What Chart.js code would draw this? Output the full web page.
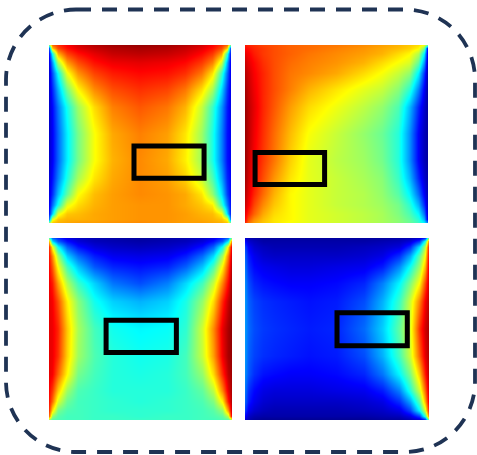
<!DOCTYPE html>
<html>
<head>
<meta charset="utf-8">
<title>Field maps</title>
<script src="https://cdn.jsdelivr.net/npm/chart.js@4/dist/chart.umd.min.js"></script>
<style>
  html, body { margin: 0; padding: 0; background: #fff; }
  #page { position: relative; width: 477px; height: 455px; overflow: hidden; }
  #frame { position: absolute; left: 0; top: 0; }
  .panel { position: absolute; }
  .panel canvas { display: block; }
</style>
</head>
<body>
<div id="page">
  <svg id="frame" width="477" height="455">
    <rect x="6" y="9.5" width="469" height="442.5" rx="70" ry="70" fill="none"
          stroke="#1f3354" stroke-width="3.8" stroke-dasharray="15 11"></rect>
  </svg>
  <div class="panel" style="left:49px;top:45px"><canvas id="topLeft" width="182" height="178"></canvas></div>
  <div class="panel" style="left:245px;top:45px"><canvas id="topRight" width="183" height="178"></canvas></div>
  <div class="panel" style="left:49px;top:238px"><canvas id="bottomLeft" width="183" height="182"></canvas></div>
  <div class="panel" style="left:245px;top:238px"><canvas id="bottomRight" width="184" height="182"></canvas></div>
</div>

<script>
/* ---------- Data ---------- */
// grid nodes, same along both axes (packed near the edges where the field changes fast)
const gridNodes = [0, .02, .05, .1, .16, .25, .35, .5, .65, .75, .84, .9, .95, .98, 1];

// field values in percent of the colour range, one row per gridNodes entry, top to bottom
const fieldTopLeft = [
  [50,78,83,88,92,95,97,98,97,95,92,88,83,78,50],
  [14,68,80,86,90,93,95,96,95,93,90,86,80,68,16],
  [10,39,70,81,86,90,93,94,93,91,87,82,72,42,12],
  [8,27,54,72,80,86,89,90,89,87,82,75,58,30,10],
  [7,20,38,61,73,81,85,87,86,83,76,65,43,23,10],
  [7,16,30,49,63,74,80,83,81,76,66,54,34,18,10],
  [7,13,24,39,53,66,75,79,76,70,57,43,27,15,10],
  [7,12,22,36,49,62,71,75,72,65,53,40,25,14,11],
  [7,12,22,36,49,62,70,74,71,64,53,40,25,14,11],
  [8,14,25,40,54,65,71,74,72,67,57,45,29,16,12],
  [9,17,31,47,62,69,72,74,73,71,65,52,35,19,12],
  [10,23,39,60,66,70,72,73,73,71,68,64,43,25,13],
  [12,33,60,68,69,71,72,73,73,72,70,69,63,35,14],
  [20,60,68,70,70,71,72,73,73,72,71,70,68,62,22],
  [50,68,70,71,72,72,73,74,73,72,72,71,70,68,50]
];

const fieldTopRight = [
  [85,84,83,81,80,78,77,76,74,72,70,68,66,62,50],
  [87,86,84,82,80,78,77,75,73,71,69,67,63,50,10],
  [90,88,85,82,80,78,76,74,72,70,66,63,55,37,8],
  [93,90,87,83,80,77,75,73,70,66,62,59,47,28,5],
  [95,92,88,84,80,76,74,71,66,62,57,52,36,18,4],
  [97,93,89,84,80,75,70,65,60,57,51,42,25,12,3],
  [98,94,90,84,79,72,66,61,56,52,45,31,16,8,3],
  [98,94,89,83,77,69,62,57,52,48,41,27,12,6,3],
  [98,93,88,82,76,67,60,56,53,49,41,27,12,6,3],
  [97,92,87,80,73,65,60,57,54,51,43,31,16,8,4],
  [95,90,84,77,70,63,60,57,55,52,46,37,23,12,5],
  [93,88,81,74,68,63,60,57,55,53,49,42,30,17,6],
  [90,84,78,71,66,63,60,58,56,54,50,45,37,24,7],
  [88,80,74,69,65,63,60,58,56,54,51,47,41,30,9],
  [85,77,72,68,65,62,60,58,56,54,51,48,43,37,25]
];

const fieldBottomLeft = [
  [45,22,16,10,7,5,4,3,4,5,7,10,16,22,50],
  [72,34,22,14,9,6,5,4,5,6,9,14,22,36,75],
  [85,62,38,22,14,9,7,6,7,9,14,22,39,64,90],
  [87,74,53,33,23,15,11,10,11,15,23,34,54,75,93],
  [88,79,62,44,32,21,16,14,16,22,32,45,64,81,95],
  [89,85,72,55,43,33,24,20,25,34,44,57,75,87,97],
  [90,88,80,64,51,39,33,30,33,40,52,66,84,93,98],
  [90,89,84,68,54,44,39,37,38,42,58,74,90,96,99],
  [90,89,83,67,53,45,41,39,40,44,57,72,89,96,98],
  [90,88,78,63,49,44,41,40,41,44,52,66,84,94,97],
  [88,82,68,53,45,43,41,41,41,43,47,56,75,90,96],
  [87,77,59,48,44,43,42,41,42,43,45,50,64,85,95],
  [85,65,49,45,44,43,42,42,42,43,44,46,52,72,93],
  [80,52,46,44,44,43,43,42,43,43,44,45,47,56,90],
  [55,46,45,44,44,43,43,43,43,43,44,44,45,46,55]
];

const fieldBottomRight = [
  [8,5,4,3,3,3,3,3,3,3,4,5,7,14,50],
  [14,8,6,4,4,4,4,4,4,5,6,9,18,40,75],
  [20,12,8,6,5,5,5,5,6,7,9,17,35,55,85],
  [23,15,11,8,7,7,7,7,8,10,17,29,47,62,88],
  [25,17,13,11,10,9,9,10,11,15,26,39,53,69,90],
  [27,20,16,14,13,12,12,13,16,25,37,50,63,80,92],
  [28,22,19,17,16,15,14,15,20,30,43,58,75,88,94],
  [28,23,20,18,17,16,15,16,23,33,47,60,83,92,96],
  [28,22,19,17,16,15,14,15,20,30,44,58,78,90,95],
  [27,21,17,14,13,12,12,13,16,24,37,50,68,85,94],
  [25,17,13,10,9,9,9,10,11,15,25,41,58,77,92],
  [23,15,11,8,7,7,7,7,8,10,17,29,47,70,90],
  [19,11,8,6,5,5,5,5,6,7,10,19,37,58,85],
  [13,7,5,4,4,4,4,4,4,5,6,10,19,42,75],
  [8,5,3,2,2,2,2,2,2,3,3,5,8,15,50]
];

// highlight boxes: left, right, top, bottom in panel fractions
const boxTopLeft = [.467, .852, .567, .748];
const boxTopRight = [.055, .435, .604, .784];
const boxBottomLeft = [.312, .696, .452, .629];
const boxBottomRight = [.5, .882, .411, .592];

/* ---------- Colour map ---------- */
function jet(v) {
  const clamp = (c) => Math.max(0, Math.min(1, c));
  return [
    clamp(1.5 - Math.abs(4 * v - 3)) * 255,
    clamp(1.5 - Math.abs(4 * v - 2)) * 255,
    clamp(1.5 - Math.abs(4 * v - 1)) * 255
  ];
}

/* ---------- Heat map controller: shades the grid between its points ---------- */
class HeatController extends Chart.ScatterController {
  draw() {
    const points = this.getMeta().data;
    const values = this.getDataset().data;
    const area = this.chart.chartArea;
    const n = gridNodes.length;
    const w = Math.round(area.right - area.left);
    const h = Math.round(area.bottom - area.top);

    const off = document.createElement("canvas");
    off.width = w;
    off.height = h;
    const offCtx = off.getContext("2d");
    const img = offCtx.createImageData(w, h);

    for (let r = 0; r < n - 1; r++) {
      for (let c = 0; c < n - 1; c++) {
        const a = r * n + c;
        const b = a + 1;
        const d = a + n;
        const e = d + 1;
        const x0 = points[a].x - area.left;
        const x1 = points[b].x - area.left;
        const y0 = points[a].y - area.top;
        const y1 = points[d].y - area.top;
        for (let py = Math.round(y0); py < Math.round(y1) || (r === n - 2 && py < h); py++) {
          const ty = Math.min(1, Math.max(0, (py + 0.5 - y0) / (y1 - y0)));
          for (let px = Math.round(x0); px < Math.round(x1) || (c === n - 2 && px < w); px++) {
            const tx = Math.min(1, Math.max(0, (px + 0.5 - x0) / (x1 - x0)));
            const top = values[a].v * (1 - tx) + values[b].v * tx;
            const bottom = values[d].v * (1 - tx) + values[e].v * tx;
            const rgb = jet((top * (1 - ty) + bottom * ty) / 100);
            const i = (py * w + px) * 4;
            img.data[i] = rgb[0];
            img.data[i + 1] = rgb[1];
            img.data[i + 2] = rgb[2];
            img.data[i + 3] = 255;
          }
        }
      }
    }

    offCtx.putImageData(img, 0, 0);
    this.chart.ctx.drawImage(off, area.left, area.top);
  }
}
HeatController.id = "heat";
HeatController.defaults = Chart.ScatterController.defaults;
Chart.register(HeatController);

/* ---------- Charts ---------- */
function gridPoints(field) {
  const out = [];
  field.forEach((row, r) => {
    row.forEach((v, c) => out.push({ x: gridNodes[c], y: gridNodes[r], v: v }));
  });
  return out;
}

function boxPoints(box) {
  const [left, right, top, bottom] = box;
  return [
    { x: left, y: top },
    { x: right, y: top },
    { x: right, y: bottom },
    { x: left, y: bottom },
    { x: left, y: top }
  ];
}

function makePanel(id, field, box) {
  new Chart(document.getElementById(id), {
    type: "scatter",
    data: {
      datasets: [
        { type: "heat", data: gridPoints(field), pointRadius: 0, order: 2 },
        {
          type: "scatter",
          data: boxPoints(box),
          showLine: true,
          borderColor: "#000",
          borderWidth: 5,
          borderJoinStyle: "miter",
          borderCapStyle: "square",
          pointRadius: 0,
          order: 1
        }
      ]
    },
    options: {
      responsive: false,
      animation: false,
      events: [],
      layout: { padding: 0 },
      plugins: { legend: { display: false }, tooltip: { enabled: false } },
      scales: {
        x: { type: "linear", min: 0, max: 1, display: false },
        y: { type: "linear", min: 0, max: 1, reverse: true, display: false }
      }
    }
  });
}

makePanel("topLeft", fieldTopLeft, boxTopLeft);
makePanel("topRight", fieldTopRight, boxTopRight);
makePanel("bottomLeft", fieldBottomLeft, boxBottomLeft);
makePanel("bottomRight", fieldBottomRight, boxBottomRight);
</script>
</body>
</html>
